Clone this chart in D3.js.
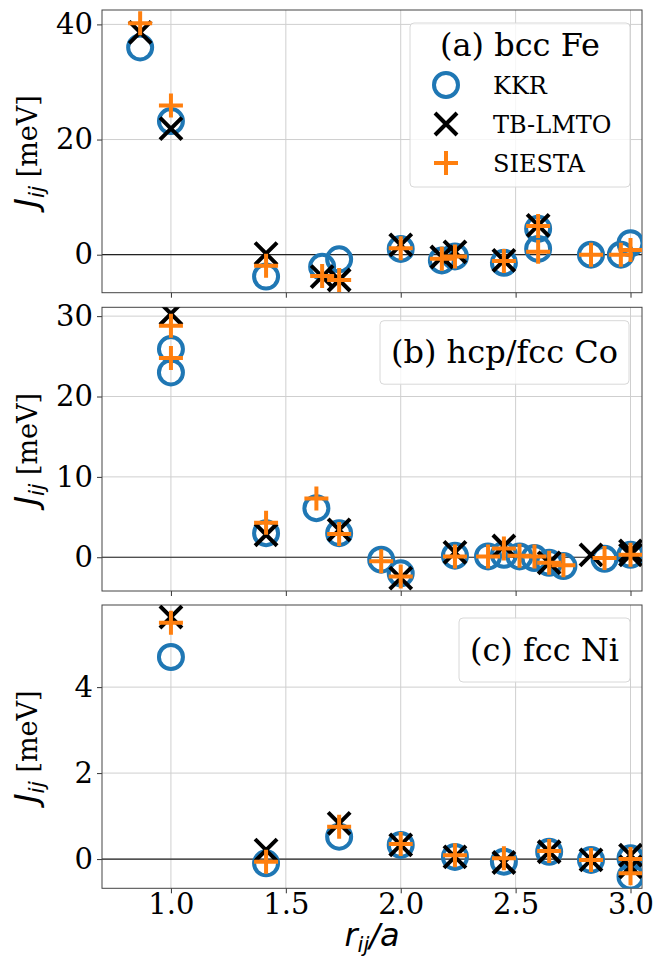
<!DOCTYPE html>
<html><head><meta charset="utf-8">
<script src="https://cdn.jsdelivr.net/npm/d3@7"></script>
<style>
body{margin:0;background:#fff;}
svg{display:block;}
</style></head>
<body>
<svg id="chart" width="660" height="959"></svg>
<script>
// ---- data ----
const xTicks = [1.0, 1.5, 2.0, 2.5, 3.0];
const xTickLabels = ["1.0", "1.5", "2.0", "2.5", "3.0"];
const seriesNames = ["KKR", "TB-LMTO", "SIESTA"];

// (a) bcc Fe
const feKKR_x = [0.866, 1.0, 1.414, 1.658, 1.732, 2.0, 2.179, 2.236, 2.449, 2.598, 2.598, 2.828, 2.958, 3.0];
const feKKR_y = [36.0, 23.2, -3.8, -2.1, -0.8, 1.0, -1.0, -0.3, -1.4, 4.5, 1.0, 0.0, 0.0, 2.0];
const feTB_x = [0.866, 1.0, 1.414, 1.658, 1.732, 2.0, 2.179, 2.236, 2.449, 2.598];
const feTB_y = [38.6, 21.9, 0.2, -3.8, -4.4, 1.7, -0.4, 0.5, -1.0, 5.1];
const feSI_x = [0.866, 1.0, 1.414, 1.658, 1.732, 2.0, 2.179, 2.236, 2.449, 2.598, 2.598, 2.828, 2.958, 3.0];
const feSI_y = [40.2, 25.9, -1.9, -3.7, -4.4, 1.1, -0.7, -0.3, -1.1, 5.0, 0.5, 0.0, 0.0, 0.8];
const feTicks = [0, 20, 40];

// (b) hcp/fcc Co
const coKKR_x = [1.0, 1.0, 1.414, 1.633, 1.732, 1.915, 2.0, 2.236, 2.380, 2.449, 2.517, 2.582, 2.646, 2.708, 2.887, 3.0];
const coKKR_y = [25.9, 23.0, 3.0, 6.1, 3.0, -0.3, -2.0, 0.2, 0.1, 0.3, 0.1, -0.1, -0.7, -1.1, -0.2, 0.3];
const coTB_x = [1.0, 1.414, 1.732, 2.0, 2.236, 2.449, 2.646, 2.828, 3.0, 3.0];
const coTB_y = [30.3, 2.8, 3.4, -2.6, 0.6, 1.4, -0.7, 0.3, 0.3, 0.8];
const coSI_x = [1.0, 1.0, 1.414, 1.633, 1.732, 1.915, 2.0, 2.236, 2.380, 2.449, 2.517, 2.582, 2.646, 2.708, 2.887, 3.0];
const coSI_y = [28.8, 24.8, 4.3, 7.3, 2.9, -0.5, -2.4, 0.1, 0.1, 1.1, 0.2, 0.1, -0.7, -1.0, -0.1, 0.3];
const coTicks = [0, 10, 20, 30];

// (c) fcc Ni
const niKKR_x = [1.0, 1.414, 1.732, 2.0, 2.236, 2.449, 2.646, 2.828, 3.0, 3.0];
const niKKR_y = [4.70, -0.10, 0.52, 0.33, 0.05, -0.06, 0.17, -0.02, 0.02, -0.41];
const niTB_x = [1.0, 1.414, 1.732, 2.0, 2.236, 2.449, 2.646, 2.828, 3.0, 3.0];
const niTB_y = [5.63, 0.21, 0.83, 0.33, 0.05, -0.08, 0.17, -0.02, 0.09, -0.18];
const niSI_x = [1.0, 1.414, 1.732, 2.0, 2.236, 2.449, 2.646, 2.828, 3.0, 3.0];
const niSI_y = [5.50, -0.06, 0.75, 0.35, 0.09, 0.02, 0.19, -0.02, 0.0, -0.33];
const niTicks = [0, 2, 4];

const panelTitles = ["(a) bcc Fe", "(b) hcp/fcc Co", "(c) fcc Ni"];

// ---- layout ----
const svg = d3.select("#chart");
const L = 102, R = 642;
const panels = [
  {top: 10, bottom: 292.7, dom: [-6.6, 42.5], ticks: feTicks,
   s: [[feKKR_x, feKKR_y], [feTB_x, feTB_y], [feSI_x, feSI_y]], title: panelTitles[0], full: true,
   box: {x: 410, y: 23, w: 220, h: 164}},
  {top: 307.3, bottom: 591, dom: [-4.2, 31.1], ticks: coTicks,
   s: [[coKKR_x, coKKR_y], [coTB_x, coTB_y], [coSI_x, coSI_y]], title: panelTitles[1], full: false,
   box: {x: 380, y: 320.7, w: 249, h: 63.5}},
  {top: 605, bottom: 888.3, dom: [-0.68, 5.91], ticks: niTicks,
   s: [[niKKR_x, niKKR_y], [niTB_x, niTB_y], [niSI_x, niSI_y]], title: panelTitles[2], full: false,
   box: {x: 459, y: 618, w: 171, h: 64}}
];
const x = d3.scaleLinear().domain([0.70, 3.05]).range([L, R]);
const blue = "#1f77b4", orange = "#ff7f0e";
const serif = "'DejaVu Serif', serif";
const sans = "'DejaVu Sans', sans-serif";

function marker(g, type, cx, cy) {
  if (type === 0) {
    g.append("circle").attr("cx", cx).attr("cy", cy).attr("r", 12)
      .attr("fill", "none").attr("stroke", blue).attr("stroke-width", 4);
  } else if (type === 1) {
    const h = 11;
    g.append("path").attr("d", `M${cx-h},${cy-h}L${cx+h},${cy+h}M${cx-h},${cy+h}L${cx+h},${cy-h}`)
      .attr("stroke", "#000").attr("stroke-width", 4).attr("fill", "none");
  } else {
    const h = 12;
    g.append("path").attr("d", `M${cx-h},${cy}L${cx+h},${cy}M${cx},${cy-h}L${cx},${cy+h}`)
      .attr("stroke", orange).attr("stroke-width", 4).attr("fill", "none");
  }
}

panels.forEach((p, i) => {
  const y = d3.scaleLinear().domain(p.dom).range([p.bottom, p.top]);
  const g = svg.append("g");
  const cid = "clip" + i;
  svg.append("defs").append("clipPath").attr("id", cid)
    .append("rect").attr("x", L).attr("y", p.top).attr("width", R - L).attr("height", p.bottom - p.top);

  // grid
  const grid = g.append("g");
  xTicks.forEach(t => grid.append("line").attr("x1", x(t)).attr("x2", x(t)).attr("y1", p.top).attr("y2", p.bottom)
    .attr("stroke", "#cfcfcf").attr("stroke-width", 1));
  p.ticks.forEach(t => grid.append("line").attr("x1", L).attr("x2", R).attr("y1", y(t)).attr("y2", y(t))
    .attr("stroke", "#cfcfcf").attr("stroke-width", 1));

  // zero line
  g.append("line").attr("x1", L).attr("x2", R).attr("y1", y(0)).attr("y2", y(0))
    .attr("stroke", "#222").attr("stroke-width", 1.2);

  // axes
  const ya = d3.axisLeft(y).tickValues(p.ticks).tickFormat(d3.format("d")).tickSize(5).tickPadding(4);
  const yg = g.append("g").attr("transform", `translate(${L},0)`).call(ya);
  const xa = d3.axisBottom(x).tickValues(xTicks).tickFormat((d, k) => i === 2 ? xTickLabels[k] : "").tickSize(5).tickPadding(0);
  const xg = g.append("g").attr("transform", `translate(0,${p.bottom})`).call(xa);
  [yg, xg].forEach(a => {
    a.select(".domain").remove();
    a.selectAll("line").attr("stroke", "#333").attr("stroke-width", 1);
    a.selectAll("text").attr("font-family", serif).attr("font-size", 29).attr("fill", "#000");
  });
  g.append("rect").attr("x", L).attr("y", p.top).attr("width", R - L).attr("height", p.bottom - p.top)
    .attr("fill", "none").attr("stroke", "#444").attr("stroke-width", 1);

  // markers
  const mg = g.append("g").attr("clip-path", `url(#${cid})`);
  p.s.forEach((arr, k) => {
    arr[0].forEach((xv, j) => marker(mg, k, x(xv), y(arr[1][j])));
  });

  // legend box
  const b = p.box;
  g.append("rect").attr("x", b.x).attr("y", b.y).attr("width", b.w).attr("height", b.h).attr("rx", 4)
    .attr("fill", "#fff").attr("fill-opacity", 0.8).attr("stroke", "#d8d8d8").attr("stroke-width", 1);
  if (p.full) {
    g.append("text").attr("x", b.x + b.w / 2).attr("y", 56).attr("text-anchor", "middle")
      .attr("font-family", serif).attr("font-size", 32).text(p.title);
    const rows = [85, 124, 163];
    seriesNames.forEach((nm, k) => {
      marker(g, k, 446, rows[k]);
      g.append("text").attr("x", 493).attr("y", rows[k] + 9).attr("font-family", serif).attr("font-size", 24).text(nm);
    });
  } else {
    g.append("text").attr("x", b.x + b.w / 2).attr("y", b.y + b.h / 2 + 11).attr("text-anchor", "middle")
      .attr("font-family", serif).attr("font-size", 32).text(p.title);
  }

  // y label
  const yl = g.append("text").attr("transform", `translate(37,${(p.top + p.bottom) / 2}) rotate(-90)`)
    .attr("text-anchor", "middle").attr("font-size", 27);
  yl.append("tspan").attr("font-family", sans).attr("font-style", "italic").attr("font-size", 32).text("J");
  yl.append("tspan").attr("font-family", sans).attr("font-style", "italic")
    .attr("font-size", 22).attr("dy", 7).text("ij");
  yl.append("tspan").attr("font-family", serif).attr("dy", -7).text("\u00a0[meV]");
});

// x label
const xl = svg.append("text").attr("x", (L + R) / 2).attr("y", 946).attr("text-anchor", "middle")
  .attr("font-family", sans).attr("font-style", "italic").attr("font-size", 32);
xl.append("tspan").text("r");
xl.append("tspan").attr("font-size", 21).attr("dy", 6).text("ij");
xl.append("tspan").attr("dy", -6).text("/a");
</script>
</body></html>
